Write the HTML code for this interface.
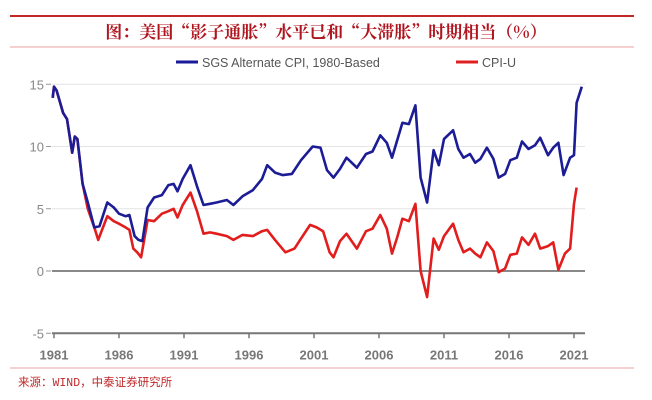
<!DOCTYPE html>
<html><head><meta charset="utf-8"><style>
body{margin:0;background:#fff;width:652px;height:400px;overflow:hidden;font-family:"Liberation Sans","Noto Sans CJK SC",sans-serif}
svg{position:absolute;left:0;top:0}
</style></head><body>
<svg width="652" height="400">
<line x1="10" y1="16" x2="634" y2="16" stroke="#c0282a" stroke-width="2"/>
<text x="326" y="38" text-anchor="middle" font-size="17" fill="#b0141e" font-family="'Noto Serif CJK SC','Noto Sans CJK SC',serif" font-weight="bold">图：美国“影子通胀”水平已和“大滞胀”时期相当（%）</text>
<line x1="10" y1="47" x2="634" y2="47" stroke="#e8a0a0" stroke-width="1"/>
<g font-size="12.5" fill="#555">
<line x1="176" y1="62" x2="198" y2="62" stroke="#1a1a9a" stroke-width="3"/>
<text x="202" y="67">SGS Alternate CPI, 1980-Based</text>
<line x1="456" y1="62" x2="478" y2="62" stroke="#e02020" stroke-width="3"/>
<text x="482" y="67">CPI-U</text>
</g>
<g id="plot"></g>
<line x1="10" y1="368" x2="634" y2="368" stroke="#e8a0a0" stroke-width="1"/>
<text x="18" y="386" font-size="11.5" fill="#c0282a" font-family="'Liberation Mono','Noto Sans CJK SC',monospace">来源：WIND，中泰证券研究所</text>
</svg>
<script>
const yTicks=[15,10,5,0,-5];
const xTicks=[1981,1986,1991,1996,2001,2006,2011,2016,2021];
const sgsYears=[1980.9,1981.0,1981.2,1981.7,1982.0,1982.4,1982.6,1982.8,1983.2,1983.6,1984.1,1984.5,1985.1,1985.6,1986.0,1986.5,1986.8,1987.2,1987.5,1987.8,1988.2,1988.7,1989.3,1989.8,1990.2,1990.5,1990.9,1991.5,1992.0,1992.5,1993.0,1993.5,1994.3,1994.8,1995.5,1996.3,1997.0,1997.4,1998.0,1998.6,1999.3,2000.0,2000.9,2001.5,2002.0,2002.5,2003.0,2003.5,2004.3,2005.0,2005.5,2006.1,2006.6,2007.0,2007.4,2007.8,2008.3,2008.8,2009.2,2009.7,2010.2,2010.6,2011.0,2011.7,2012.1,2012.5,2013.0,2013.4,2013.8,2014.3,2014.8,2015.2,2015.7,2016.1,2016.6,2017.0,2017.5,2018.0,2018.4,2019.0,2019.4,2019.8,2020.2,2020.7,2021.0,2021.2,2021.6];
const sgsValues=[13.9,14.8,14.5,12.7,12.2,9.5,10.8,10.6,7.0,5.5,3.5,3.6,5.5,5.1,4.6,4.4,4.5,2.8,2.5,2.4,5.1,5.9,6.1,6.9,7.0,6.4,7.4,8.5,6.8,5.3,5.4,5.5,5.7,5.3,6.0,6.5,7.4,8.5,7.9,7.7,7.8,8.9,10.0,9.9,8.1,7.5,8.2,9.1,8.3,9.4,9.6,10.9,10.3,9.1,10.5,11.9,11.8,13.3,7.5,5.5,9.7,8.5,10.6,11.3,9.8,9.1,9.4,8.7,9.0,9.9,9.0,7.5,7.8,8.9,9.1,10.4,9.8,10.1,10.7,9.3,9.9,10.3,7.7,9.1,9.3,13.5,14.8];
const cpiYears=[1980.9,1981.0,1981.2,1981.7,1982.0,1982.4,1982.6,1982.8,1983.2,1983.6,1984.1,1984.4,1985.1,1985.6,1986.0,1986.5,1986.8,1987.1,1987.4,1987.7,1988.2,1988.7,1989.3,1989.8,1990.2,1990.5,1990.9,1991.5,1992.0,1992.5,1993.0,1993.5,1994.3,1994.8,1995.5,1996.3,1997.0,1997.4,1998.0,1998.8,1999.5,2000.0,2000.7,2001.2,2001.7,2002.2,2002.5,2003.0,2003.5,2004.3,2005.0,2005.5,2006.1,2006.6,2007.0,2007.4,2007.8,2008.3,2008.8,2009.2,2009.7,2010.2,2010.6,2011.0,2011.7,2012.1,2012.5,2013.0,2013.4,2013.8,2014.3,2014.8,2015.2,2015.7,2016.1,2016.6,2017.0,2017.5,2018.0,2018.4,2019.0,2019.4,2019.8,2020.3,2020.7,2021.0,2021.2,2021.7];
const cpiValues=[13.9,14.8,14.5,12.7,12.2,9.5,10.8,10.6,7.0,5.0,3.5,2.5,4.4,4.0,3.8,3.5,3.3,1.8,1.5,1.1,4.1,4.0,4.6,4.8,5.0,4.3,5.3,6.3,4.8,3.0,3.1,3.0,2.8,2.5,2.9,2.8,3.2,3.3,2.5,1.5,1.8,2.6,3.7,3.5,3.2,1.5,1.1,2.4,3.0,1.8,3.2,3.4,4.5,3.4,1.4,2.7,4.2,4.0,5.4,0.0,-2.1,2.6,1.7,2.8,3.8,2.5,1.5,1.8,1.4,1.1,2.3,1.6,-0.1,0.2,1.3,1.4,2.7,2.1,3.0,1.8,2.0,2.3,0.1,1.4,1.8,5.4,6.7];

const X0=1981,PX0=54,PXY=13,Y0=271,PYU=12.45;
const xs=y=>PX0+(y-X0)*PXY;
const ys=v=>Y0-v*PYU;
const NS='http://www.w3.org/2000/svg';
const plot=document.getElementById('plot');
function mk(t,a){const e=document.createElementNS(NS,t);for(const k in a)e.setAttribute(k,a[k]);plot.appendChild(e);return e;}
yTicks.forEach(v=>{
  if(v>0){const g=mk('line',{x1:52,x2:585,y1:ys(v),y2:ys(v),stroke:'#e4e4e4','stroke-width':1});
  
  }
  const t=mk('text',{x:44,y:ys(v)+5,'text-anchor':'end','font-size':13,fill:'#888'});
  t.textContent=v;
  
  
  const tk=mk('line',{x1:46,x2:51,y1:ys(v),y2:ys(v),stroke:'#999'});
  
  
});
const z=mk('line',{x1:52,x2:585,y1:ys(0),y2:ys(0),stroke:'#888','stroke-width':2});


const xa=mk('line',{x1:52,x2:585,y1:ys(-5),y2:ys(-5),stroke:'#777','stroke-width':2});


xTicks.forEach(y=>{
  const tk=mk('line',{x1:xs(y),x2:xs(y),y1:ys(-5),y2:ys(-5)+5,stroke:'#777','stroke-width':1.5});
  
  
  const t=mk('text',{x:xs(y),y:ys(-5)+26,'text-anchor':'middle','font-size':13,'font-weight':'bold',fill:'#777'});
  t.textContent=y;
  
  
});
function line(yrs,vals,col,name){
  const d=yrs.map((y,i)=>(i?'L':'M')+xs(y).toFixed(1)+','+ys(vals[i]).toFixed(1)).join('');
  const p=mk('path',{d:d,fill:'none',stroke:col,'stroke-width':2.6,'stroke-linejoin':'round'});
  
  
}
line(cpiYears,cpiValues,'#e21d1d','cpiu-line');
line(sgsYears,sgsValues,'#1c1c96','sgs-line');
</script>
</body></html>
